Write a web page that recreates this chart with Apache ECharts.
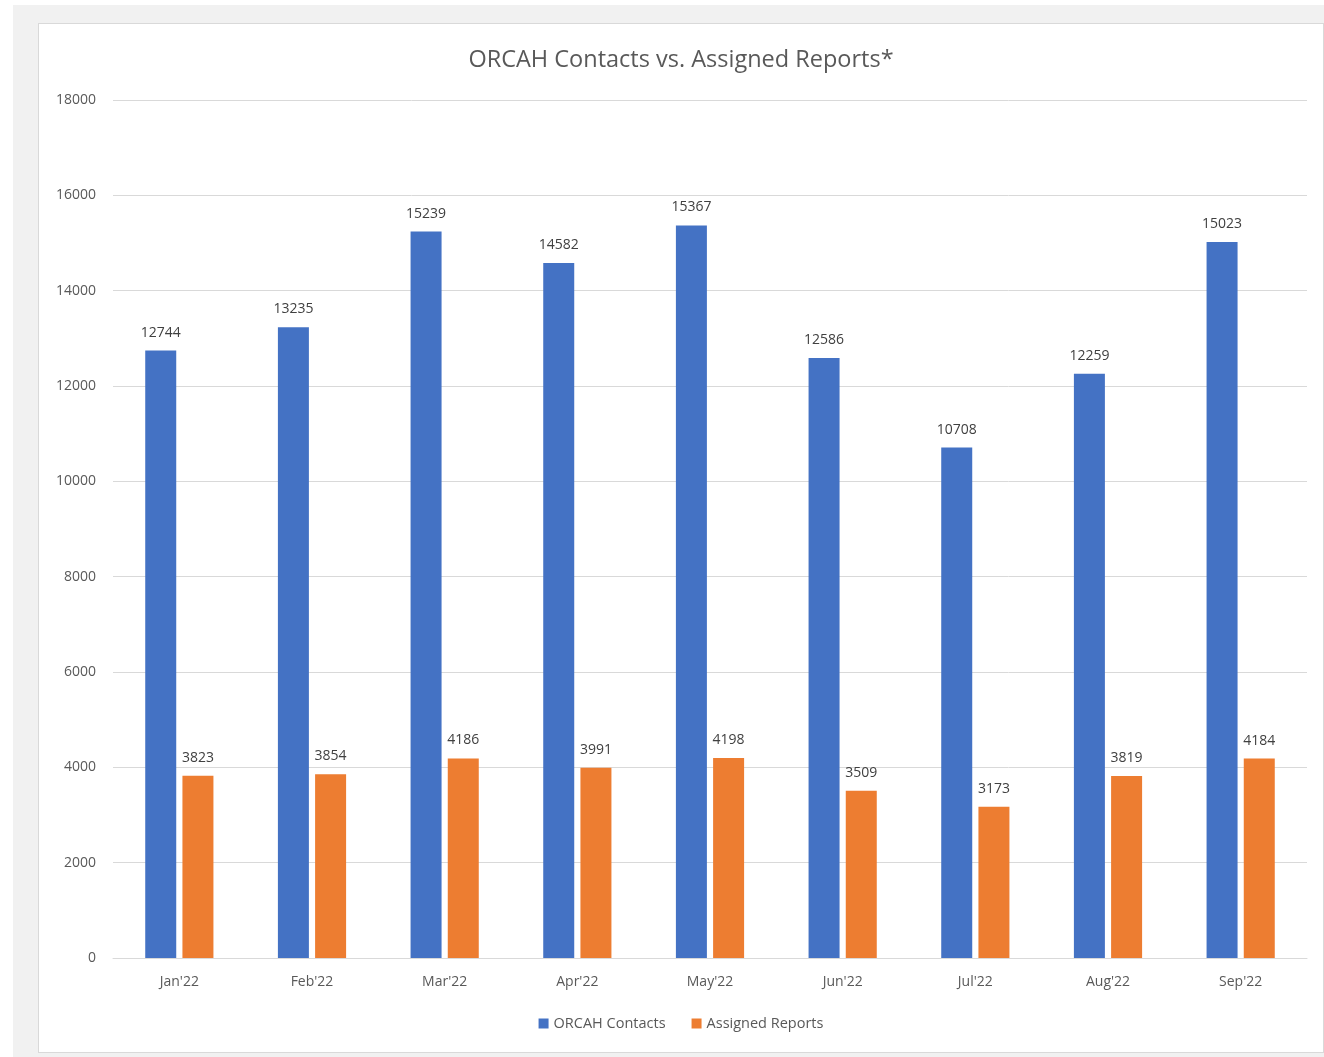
<!DOCTYPE html>
<html>
<head>
<meta charset="utf-8">
<script src="https://cdn.jsdelivr.net/npm/echarts@6/dist/echarts.min.js"></script>
<style>
  html, body { margin: 0; padding: 0; width: 1324px; height: 1057px; background: #ffffff; overflow: hidden; }
  #frame { position: absolute; left: 13px; top: 5px; width: 1311px; height: 1052px; background: #f1f1f1; }
  #chart { position: absolute; left: 38px; top: 23px; width: 1286px; height: 1030px; background: #ffffff; border: 1px solid #d9d9d9; box-sizing: border-box; }
</style>
</head>
<body>
<div id="frame"></div>
<div id="chart"></div>
<script>
const categories = ["Jan'22", "Feb'22", "Mar'22", "Apr'22", "May'22", "Jun'22", "Jul'22", "Aug'22", "Sep'22"];
const orcahContacts = [12744, 13235, 15239, 14582, 15367, 12586, 10708, 12259, 15023];
const assignedReports = [3823, 3854, 4186, 3991, 4198, 3509, 3173, 3819, 4184];

const chart = echarts.init(document.getElementById('chart'));
const labelStyle = { show: true, position: 'top', color: '#404040', fontSize: 14, fontFamily: 'Open Sans', distance: 11 };
chart.setOption({
  animation: false,
  title: {
    text: 'ORCAH Contacts vs. Assigned Reports*',
    left: 'center',
    top: 19,
    textStyle: { color: '#595959', fontSize: 23.5, fontWeight: 'normal', fontFamily: 'Open Sans' }
  },
  legend: {
    bottom: 16,
    left: 'center',
    itemWidth: 10,
    itemHeight: 10,
    itemGap: 26,
    icon: 'rect',
    textStyle: { color: '#595959', fontSize: 14.5, fontFamily: 'Open Sans' },
    data: ['ORCAH Contacts', 'Assigned Reports']
  },
  grid: { left: 74, right: 16, top: 76, bottom: 94 },
  xAxis: {
    type: 'category',
    data: categories,
    axisLine: { lineStyle: { color: '#d9d9d9' } },
    axisTick: { show: false },
    axisLabel: { color: '#595959', fontSize: 14, fontFamily: 'Open Sans', margin: 17 }
  },
  yAxis: {
    type: 'value',
    min: 0,
    max: 18000,
    interval: 2000,
    axisLine: { show: false },
    axisTick: { show: false },
    axisLabel: { color: '#595959', fontSize: 14, fontFamily: 'Open Sans', margin: 17, formatter: function (v) { return String(v); } },
    splitLine: { lineStyle: { color: '#d9d9d9' } }
  },
  series: [
    { name: 'ORCAH Contacts', type: 'bar', data: orcahContacts, barWidth: 31, barGap: '20%', itemStyle: { color: '#4472C4' }, label: labelStyle },
    { name: 'Assigned Reports', type: 'bar', data: assignedReports, barWidth: 31, itemStyle: { color: '#ED7D31' }, label: labelStyle }
  ]
});
</script>
</body>
</html>
